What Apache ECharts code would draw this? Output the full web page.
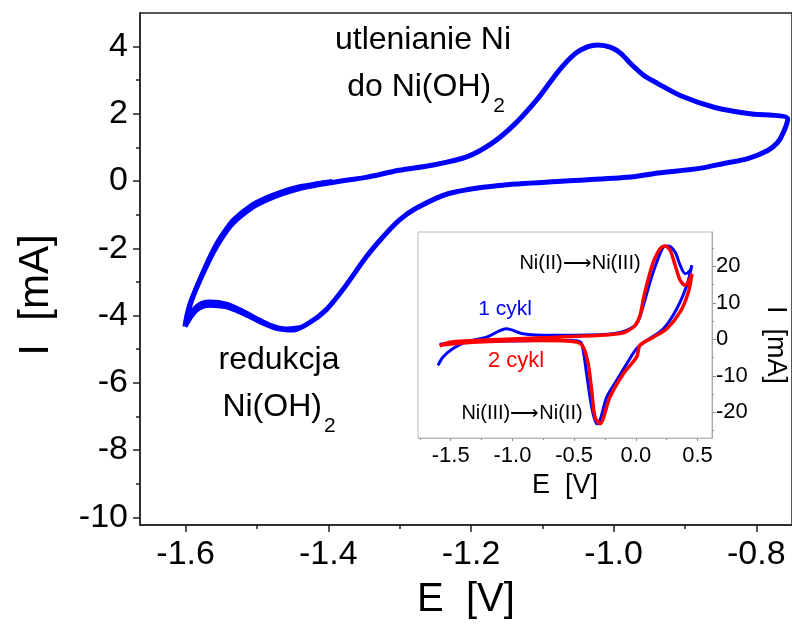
<!DOCTYPE html>
<html>
<head>
<meta charset="utf-8">
<script src="https://cdn.jsdelivr.net/npm/echarts@6/dist/echarts.min.js"></script>
<style>
html,body{margin:0;padding:0;background:#fff;}
#chart{width:792px;height:625px;}
</style>
</head>
<body>
<div id="chart"></div>
<script>
// ---------- main CV (E in V, I in mA) ----------
const mainE = [-1.601, -1.598, -1.592, -1.580, -1.562, -1.548, -1.534, -1.506, -1.487, -1.465, -1.440, -1.417, -1.394, -1.370, -1.347, -1.301, -1.255, -1.207, -1.171, -1.138, -1.105, -1.077, -1.054, -1.036, -1.022, -1.004, -0.990, -0.976, -0.958, -0.938, -0.906, -0.858, -0.812, -0.756,
  -0.762, -0.770, -0.784, -0.812, -0.844, -0.882, -0.938, -0.976, -1.068, -1.161, -1.231, -1.277, -1.301, -1.325, -1.347, -1.380, -1.403, -1.427, -1.450, -1.473, -1.496, -1.520, -1.543, -1.566, -1.585, -1.601];
const mainI = [-4.33, -3.98, -3.54, -2.95, -2.15, -1.65, -1.26, -0.78, -0.57, -0.38, -0.22, -0.12, -0.04, 0.04, 0.11, 0.32, 0.47, 0.71, 1.12, 1.71, 2.49, 3.28, 3.79, 4.00, 4.05, 3.98, 3.80, 3.49, 3.15, 2.90, 2.54, 2.19, 2.01, 1.85,
  1.45, 1.15, 0.91, 0.67, 0.53, 0.37, 0.24, 0.12, 0.00, -0.13, -0.37, -0.81, -1.17, -1.70, -2.26, -3.24, -3.83, -4.22, -4.43, -4.38, -4.18, -3.93, -3.74, -3.69, -3.84, -4.33];
// earlier, overlapping cycle near the negative vertex
const prevE = [-1.440, -1.460, -1.480, -1.500, -1.520, -1.543, -1.566, -1.585, -1.598, -1.596, -1.590, -1.578, -1.560, -1.546, -1.532, -1.506, -1.487, -1.465, -1.440, -1.417, -1.394];
const prevI = [-4.36, -4.40, -4.30, -4.10, -3.87, -3.66, -3.60, -3.74, -4.15, -3.85, -3.45, -2.82, -2.00, -1.52, -1.14, -0.70, -0.50, -0.32, -0.17, -0.08, -0.01];

// ---------- inset CVs ----------
const cyc1E = [-1.603, -1.562, -1.481, -1.373, -1.210, -1.048, -0.916, -0.696, -0.291, -0.169, -0.074, 0.007, 0.061, 0.115, 0.170, 0.223, 0.264, 0.318, 0.359, 0.399, 0.440, 0.454,
  0.413, 0.332, 0.223, 0.088, 0.007, -0.074, -0.155, -0.236, -0.291, -0.317, -0.358, -0.399, -0.439, -0.480, -0.550, -0.800, -1.100, -1.400, -1.590];
const cyc1I = [-7.1, -4.8, -2.5, -0.7, 0.6, 2.9, 1.56, 1.1, 1.29, 1.64, 2.47, 4.3, 9.3, 15.7, 21.2, 25.3, 25.6, 23.9, 20.3, 18.0, 18.9, 20.3,
  14.8, 8.4, 2.9, -0.3, -2.5, -6.7, -11.2, -15.8, -22.2, -23.1, -18.5, -9.4, -1.2, -0.4, -0.3, -0.3, -0.5, -0.8, -1.3];
const cyc2E = [-1.589, -1.508, -1.346, -1.102, -0.696, -0.291, -0.130, -0.074, -0.006, 0.034, 0.061, 0.101, 0.142, 0.196, 0.237, 0.278, 0.318, 0.359, 0.399, 0.434, 0.454,
  0.426, 0.359, 0.251, 0.142, 0.034, 0.007, -0.101, -0.210, -0.291, -0.331, -0.358, -0.386, -0.426, -0.480, -0.751, -1.291, -1.589];
const cyc2I = [-1.8, -0.8, -0.4, 0.0, 0.5, 1.1, 1.6, 2.2, 3.8, 6.6, 11.1, 16.6, 21.2, 24.8, 25.6, 24.4, 20.3, 16.2, 14.8, 16.2, 18.0,
  13.0, 7.5, 2.9, 0.6, -1.6, -4.8, -9.4, -15.8, -23.1, -21.3, -14.0, -6.7, -2.1, -0.7, -0.3, -0.7, -1.6];

// ---------- ticks ----------
const mainXTicks = [-1.6, -1.4, -1.2, -1.0, -0.8];
const mainXMinor = [-1.5, -1.3, -1.1, -0.9];
const mainYTicks = [4, 2, 0, -2, -4, -6, -8, -10];
const mainYMinor = [3, 1, -1, -3, -5, -7, -9];
const insetXTicks = [-1.5, -1.0, -0.5, 0.0, 0.5];
const insetXMinor = [-1.75, -1.25, -0.75, -0.25, 0.25];
const insetYTicks = [20, 10, 0, -10, -20];
const insetYMinor = [25, 15, 5, -5, -15, -25];

const FONT = "'Liberation Sans', Arial, Helvetica, sans-serif";
const pairs = (xs, ys) => xs.map((x, i) => [x, ys[i]]);

const MX = [-1.664, -0.75], MY = [-10.23, 5.0];
const IX = [-1.765, 0.617], IY = [-27.0, 29.4];

function axisMajor(o) {
  return Object.assign({
    type: 'value', splitLine: {show: false},
    axisLine: {show: true, onZero: false, lineStyle: {color: '#222', width: 1.5}},
  }, o);
}
function axisMinor(o) {
  return Object.assign({
    type: 'value', splitLine: {show: false}, axisLabel: {show: false},
    axisLine: {show: false, onZero: false}
  }, o);
}

const option = {
  animation: false,
  backgroundColor: '#fff',
  grid: [
    {left: 140, top: 13, width: 655, height: 513, show: true, borderColor: '#222', borderWidth: 1.5, backgroundColor: 'transparent'},
    {left: 418, top: 232, width: 294, height: 206, show: true, borderColor: '#b8b8b8', borderWidth: 1, backgroundColor: '#fff', z: 3}
  ],
  xAxis: [
    axisMajor({gridIndex: 0, min: MX[0], max: MX[1], position: 'bottom',
      name: 'E  [V]', nameLocation: 'middle', nameGap: 55,
      nameTextStyle: {fontSize: 40, fontFamily: FONT, color: '#000'},
      axisTick: {show: true, inside: false, length: 7, customValues: mainXTicks, lineStyle: {color: '#222', width: 1.5}},
      axisLabel: {show: true, margin: 13, customValues: mainXTicks, formatter: v => v.toFixed(1), fontSize: 34, fontFamily: FONT, color: '#000'}}),
    axisMinor({gridIndex: 0, min: MX[0], max: MX[1], position: 'bottom',
      axisTick: {show: true, length: 4, customValues: mainXMinor, lineStyle: {color: '#222', width: 1.5}}}),
    axisMajor({gridIndex: 1, min: IX[0], max: IX[1], position: 'bottom',
      name: 'E  [V]', nameLocation: 'middle', nameGap: 34,
      nameTextStyle: {fontSize: 27, fontFamily: FONT, color: '#000'},
      axisLine: {show: true, onZero: false, lineStyle: {color: '#b8b8b8', width: 1}},
      axisTick: {show: true, length: 3, customValues: insetXTicks, lineStyle: {color: '#888', width: 1}},
      axisLabel: {show: true, margin: 7, customValues: insetXTicks, formatter: v => v.toFixed(1), fontSize: 22, fontFamily: FONT, color: '#000'}}),
    axisMinor({gridIndex: 1, min: IX[0], max: IX[1], position: 'bottom',
      axisTick: {show: true, length: 2, customValues: insetXMinor, lineStyle: {color: '#888', width: 1}}})
  ],
  yAxis: [
    axisMajor({gridIndex: 0, min: MY[0], max: MY[1], position: 'left',
      axisTick: {show: true, length: 7, customValues: mainYTicks, lineStyle: {color: '#222', width: 1.5}},
      axisLabel: {show: true, margin: 12, customValues: mainYTicks, formatter: v => String(v), fontSize: 34, fontFamily: FONT, color: '#000'}}),
    axisMinor({gridIndex: 0, min: MY[0], max: MY[1], position: 'left',
      axisTick: {show: true, length: 4, customValues: mainYMinor, lineStyle: {color: '#222', width: 1.5}}}),
    axisMajor({gridIndex: 1, min: IY[0], max: IY[1], position: 'right',
      axisLine: {show: true, onZero: false, lineStyle: {color: '#999', width: 1}},
      axisTick: {show: true, length: 4, customValues: insetYTicks, lineStyle: {color: '#888', width: 1}},
      axisLabel: {show: true, margin: 4, customValues: insetYTicks, formatter: v => String(v), fontSize: 22, fontFamily: FONT, color: '#000'}}),
    axisMinor({gridIndex: 1, min: IY[0], max: IY[1], position: 'right',
      axisTick: {show: true, length: 2, customValues: insetYMinor, lineStyle: {color: '#888', width: 1}}})
  ],
  series: [
    {type: 'line', name: 'cykl poprzedni', xAxisIndex: 0, yAxisIndex: 0, data: pairs(prevE, prevI), showSymbol: false, smooth: 0.3,
      lineStyle: {color: '#0000ff', width: 5}, z: 2},
    {type: 'line', name: 'CV', xAxisIndex: 0, yAxisIndex: 0, data: pairs(mainE, mainI), showSymbol: false, smooth: 0.3,
      lineStyle: {color: '#0000ff', width: 5}, z: 2},
    {type: 'line', name: '1 cykl', xAxisIndex: 2, yAxisIndex: 2, data: pairs(cyc1E, cyc1I), showSymbol: false, smooth: 0.3,
      lineStyle: {color: '#0000ff', width: 3}, z: 4},
    {type: 'line', name: '2 cykl', xAxisIndex: 2, yAxisIndex: 2, data: pairs(cyc2E, cyc2I), showSymbol: false, smooth: 0.3,
      lineStyle: {color: '#ff0000', width: 3.5}, z: 5}
  ],
  graphic: [
    {type: 'text', x: 36, y: 295, rotation: Math.PI / 2, z: 10,
      style: {text: 'I  [mA]', fontSize: 42, fontFamily: FONT, fill: '#000', align: 'center', verticalAlign: 'middle'}},
    {type: 'text', x: 775, y: 345, rotation: -Math.PI / 2, z: 10,
      style: {text: 'I  [mA]', fontSize: 27, fontFamily: FONT, fill: '#000', align: 'center', verticalAlign: 'middle'}},
    {type: 'text', x: 423, y: 40, z: 10,
      style: {text: 'utlenianie Ni', fontSize: 32, fontFamily: FONT, fill: '#000', align: 'center', verticalAlign: 'middle'}},
    {type: 'text', x: 426, y: 57, z: 10,
      style: {text: '{n|do Ni(OH)}{s|2}', fontFamily: FONT, fill: '#000', align: 'center', verticalAlign: 'top',
        rich: {n: {fontSize: 32, lineHeight: 60, fontFamily: FONT, fill: '#000'},
               s: {fontSize: 21, lineHeight: 21, fontFamily: FONT, fill: '#000', verticalAlign: 'bottom', padding: [0, 0, 0, 2]}}}},
    {type: 'text', x: 279, y: 360, z: 10,
      style: {text: 'redukcja', fontSize: 32, fontFamily: FONT, fill: '#000', align: 'center', verticalAlign: 'middle'}},
    {type: 'text', x: 279, y: 377, z: 10,
      style: {text: '{n|Ni(OH)}{s|2}', fontFamily: FONT, fill: '#000', align: 'center', verticalAlign: 'top',
        rich: {n: {fontSize: 32, lineHeight: 60, fontFamily: FONT, fill: '#000'},
               s: {fontSize: 21, lineHeight: 21, fontFamily: FONT, fill: '#000', verticalAlign: 'bottom', padding: [0, 0, 0, 2]}}}},
    {type: 'text', x: 580, y: 263, z: 10,
      style: {text: 'Ni(II)\u27F6Ni(III)', fontSize: 20, fontFamily: FONT, fill: '#000', align: 'center', verticalAlign: 'middle'}},
    {type: 'text', x: 505, y: 309, z: 10,
      style: {text: '1 cykl', fontSize: 21, fontFamily: FONT, fill: '#0000ff', align: 'center', verticalAlign: 'middle'}},
    {type: 'text', x: 516, y: 361, z: 10,
      style: {text: '2 cykl', fontSize: 22, fontFamily: FONT, fill: '#ff0000', align: 'center', verticalAlign: 'middle'}},
    {type: 'text', x: 522, y: 413, z: 10,
      style: {text: 'Ni(III)\u27F6Ni(II)', fontSize: 20, fontFamily: FONT, fill: '#000', align: 'center', verticalAlign: 'middle'}}
  ]
};

const chart = echarts.init(document.getElementById('chart'), null, {renderer: 'canvas'});
chart.setOption(option);
</script>
</body>
</html>
